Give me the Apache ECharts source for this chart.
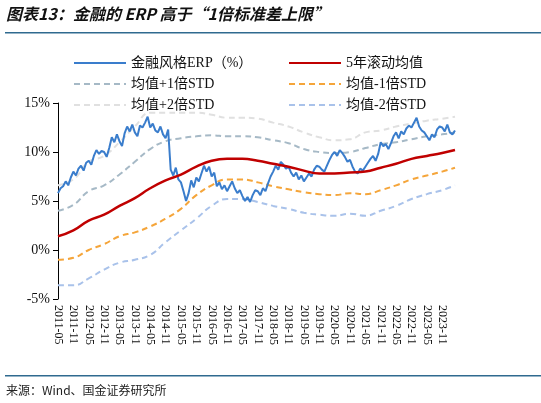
<!DOCTYPE html>
<html><head><meta charset="utf-8">
<script src="https://cdn.jsdelivr.net/npm/echarts@6/dist/echarts.min.js"></script>
<style>html,body{margin:0;padding:0;background:#fff}#c{width:541px;height:403px}</style>
</head><body><div id="c"></div>
<script>
const startYear = 2011, startMonth = 5, monthCount = 156;
const categories = [];
for (let i = 0; i < monthCount; i++) {
  const m = startMonth - 1 + i;
  const y = startYear + Math.floor(m / 12), mm = (m % 12) + 1;
  categories.push(y + '-' + (mm < 10 ? '0' + mm : mm));
}
const erp = [
 5.8,6.3,6.5,7.0,6.6,7.4,8.0,7.6,8.3,8.6,8.1,8.9,
 9.1,8.7,9.6,10.2,9.8,10.1,10.0,9.5,10.4,11.5,11.0,11.8,
 11.1,10.6,11.9,12.6,12.1,12.8,12.0,11.6,12.7,12.5,13.0,13.6,
 12.5,12.9,12.2,12.0,12.6,11.8,11.4,12.3,8.2,7.6,8.4,7.2,
 6.9,6.0,5.0,5.8,7.1,6.4,7.4,7.0,7.8,8.6,8.0,8.5,
 7.5,7.9,6.5,6.9,6.2,6.6,6.0,6.5,7.0,6.3,5.8,6.1,
 5.5,5.0,5.4,4.9,5.6,6.1,6.0,5.6,6.3,6.0,6.8,7.5,
 8.0,8.6,8.2,9.0,8.7,8.3,8.5,7.9,7.5,7.9,7.2,7.6,
 7.0,7.4,7.8,7.5,8.2,8.6,8.5,8.2,8.0,8.6,9.2,9.7,
 10.0,9.6,10.2,9.9,9.5,9.0,9.2,8.5,8.0,7.8,8.3,8.1,
 8.5,8.9,9.3,9.6,9.1,9.8,11.0,10.6,10.8,10.3,10.9,11.6,
 12.0,11.4,12.1,11.8,12.4,12.7,12.5,13.0,13.5,12.6,12.2,12.0,
 11.6,11.2,11.8,11.5,12.3,12.6,12.5,12.1,12.8,12.0,11.8,12.2
];
const mean = [['2011-05',1.4],['2011-11',2.0],['2012-05',3.0],['2012-11',3.6],['2013-05',4.5],['2013-11',5.3],['2014-05',6.3],['2014-11',7.1],['2015-05',7.7],['2015-11',8.5],['2016-05',9.1],['2016-11',9.3],['2017-05',9.3],['2017-11',9.1],['2018-05',8.8],['2018-11',8.5],['2019-05',8.1],['2019-11',7.8],['2020-05',7.8],['2020-11',7.9],['2021-05',8.0],['2021-11',8.4],['2022-05',8.8],['2022-11',9.3],['2023-05',9.6],['2023-11',9.9],['2024-04',10.2]];
const plus1 = [['2011-05',4.0],['2011-11',4.6],['2012-05',6.0],['2012-11',6.6],['2013-05',7.7],['2013-11',9.0],['2014-05',10.3],['2014-11',11.1],['2015-05',11.4],['2015-11',11.6],['2016-05',11.7],['2016-11',11.6],['2017-05',11.6],['2017-11',11.5],['2018-05',11.2],['2018-11',10.9],['2019-05',10.3],['2019-11',10.0],['2020-05',9.9],['2020-11',10.0],['2021-05',10.4],['2021-11',10.8],['2022-05',11.0],['2022-11',11.3],['2023-05',11.6],['2023-11',11.8],['2024-04',12.0]];
const minus1 = [['2011-05',-1.0],['2011-11',-0.8],['2012-05',0.0],['2012-11',0.6],['2013-05',1.4],['2013-11',1.8],['2014-05',2.4],['2014-11',3.2],['2015-05',4.2],['2015-11',5.6],['2016-05',6.6],['2016-11',7.2],['2017-05',7.2],['2017-11',6.9],['2018-05',6.5],['2018-11',6.2],['2019-05',5.9],['2019-11',5.7],['2020-05',5.6],['2020-11',5.8],['2021-05',5.7],['2021-11',6.1],['2022-05',6.6],['2022-11',7.2],['2023-05',7.6],['2023-11',8.0],['2024-04',8.4]];
const plus2 = [['2011-05',6.6],['2011-11',7.2],['2012-05',9.0],['2012-11',9.6],['2013-05',11.0],['2013-11',12.6],['2014-05',14.0],['2014-11',14.0],['2015-05',14.0],['2015-11',14.0],['2016-05',13.8],['2016-11',13.5],['2017-05',13.5],['2017-11',13.4],['2018-05',13.0],['2018-11',12.6],['2019-05',12.0],['2019-11',11.5],['2020-05',11.2],['2020-11',11.3],['2021-05',12.0],['2021-11',12.2],['2022-05',12.6],['2022-11',12.9],['2023-05',13.2],['2023-11',13.4],['2024-04',13.6]];
const minus2 = [['2011-05',-3.6],['2011-11',-3.6],['2012-05',-2.9],['2012-11',-2.0],['2013-05',-1.3],['2013-11',-1.0],['2014-05',-0.5],['2014-11',0.8],['2015-05',2.0],['2015-11',3.2],['2016-05',4.5],['2016-11',5.2],['2017-05',5.2],['2017-11',4.9],['2018-05',4.5],['2018-11',4.2],['2019-05',3.8],['2019-11',3.6],['2020-05',3.5],['2020-11',3.7],['2021-05',3.5],['2021-11',4.0],['2022-05',4.5],['2022-11',5.2],['2023-05',5.7],['2023-11',6.1],['2024-04',6.6]];
const yTicks = [-5, 0, 5, 10, 15];

const font = "'Liberation Serif','Noto Sans CJK SC',serif";
const chart = echarts.init(document.getElementById('c'));
function dash(name, data, color) {
  return {name, type:'line', data, symbol:'none', smooth:true, lineStyle:{color, width:2, type:[6,4]}, itemStyle:{color}, z:2};
}
const legendBase = {top:51, orient:'vertical', itemWidth:52, itemHeight:10, itemGap:7, itemStyle:{opacity:0},
  textStyle:{fontFamily:font, fontSize:14, color:'#111'}};
chart.setOption({
  animation:false,
  graphic:[
    {type:'text', left:6, top:6, style:{text:'图表13：金融的 ERP 高于“1倍标准差上限”', font:"italic bold 16px 'Noto Sans CJK SC'", fill:'#111'}},
    {type:'rect', shape:{x:5,y:32,width:536,height:1.5}, style:{fill:'#2f6a8f'}},
    {type:'rect', shape:{x:5,y:375,width:536,height:1.5}, style:{fill:'#2f6a8f'}},
    {type:'text', left:6, top:384, style:{text:'来源：Wind、国金证券研究所', font:"12px 'Noto Sans CJK SC'", fill:'#222'}}
  ],
  legend:[
    Object.assign({left:68, data:['金融风格ERP（%）','均值+1倍STD','均值+2倍STD']}, legendBase),
    Object.assign({left:283, data:['5年滚动均值','均值-1倍STD','均值-2倍STD']}, legendBase)
  ],
  grid:{left:58, right:86, top:103, bottom:104},
  xAxis:{type:'category', data:categories, boundaryGap:false,
    axisLine:{show:false}, axisTick:{show:false},
    axisLabel:{interval:5, rotate:-90, fontFamily:font, fontSize:12, color:'#111', margin:6}},
  yAxis:{type:'value', min:yTicks[0], max:yTicks[yTicks.length-1], interval:5,
    splitLine:{show:false},
    axisLine:{show:true, lineStyle:{color:'#000'}}, axisTick:{show:true, lineStyle:{color:'#000'}},
    axisLabel:{formatter:'{value}%', fontFamily:font, fontSize:14, color:'#111'}},
  series:[
    {name:'金融风格ERP（%）', type:'line', data:erp, symbol:'none', lineStyle:{color:'#3a7dcc', width:2}, itemStyle:{color:'#3a7dcc'}, z:5},
    {name:'5年滚动均值', type:'line', data:mean, symbol:'none', smooth:true, lineStyle:{color:'#c00000', width:2.5}, itemStyle:{color:'#c00000'}, z:6},
    dash('均值+1倍STD', plus1, '#a6b9c6'),
    dash('均值-1倍STD', minus1, '#f5a53a'),
    dash('均值+2倍STD', plus2, '#e0e0e0'),
    dash('均值-2倍STD', minus2, '#a9c2ea')
  ]
});
</script></body></html>
